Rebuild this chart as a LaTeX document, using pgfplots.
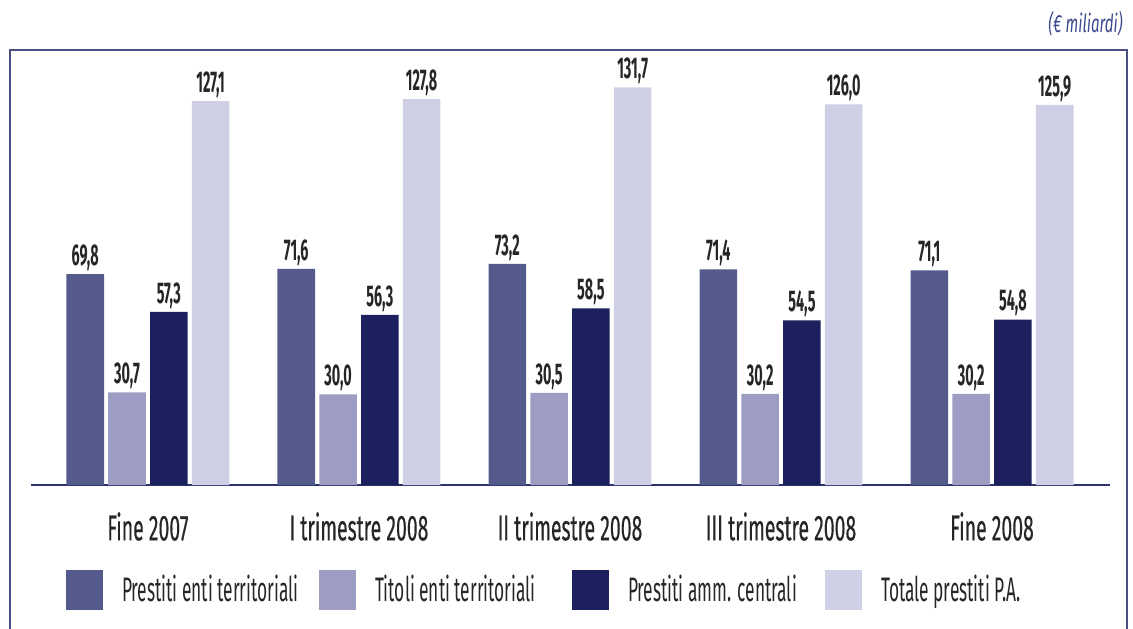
\documentclass[border=0pt]{standalone}
\usepackage{pgfplots}
\pgfplotsset{compat=1.18}
\usepackage{fontspec}
\setmainfont{Fira Sans}[FakeStretch=0.51]
\newfontfamily\valfont{Fira Sans}[FakeStretch=0.48]
\newfontfamily\catfont{Fira Sans}[FakeStretch=0.54, FakeBold=0.4]
\newfontfamily\unitfont{Fira Sans}[FakeStretch=0.6]
\definecolor{cA}{HTML}{555A8C}
\definecolor{cB}{HTML}{9D9CC2}
\definecolor{cC}{HTML}{1C205E}
\definecolor{cD}{HTML}{CFCFE6}
\definecolor{boxcol}{HTML}{4A4F80}
\definecolor{axcol}{HTML}{2C336F}
\definecolor{txt}{HTML}{262626}
\definecolor{titblue}{HTML}{3D4A8F}
\begin{document}
\begin{tikzpicture}[x=1pt,y=1pt]
\useasboundingbox (0,0) rectangle (566.5,314);
\draw[boxcol, line width=1pt] (5,-2) -- (5,289) -- (563.5,289) -- (563.5,-2);
\node[anchor=east, font=\unitfont\itshape\fontsize{12.5}{14}\selectfont, text=titblue, inner sep=0pt] at (561.5,302) {(€ miliardi)};
\begin{axis}[
  at={(15.5pt,71.5pt)}, anchor=south west,
  scale only axis, width=539.5pt, height=211.4pt,
  xmin=-0.554, xmax=4.559, ymin=0, ymax=140,
  ybar, bar width=0.178,
  axis x line*=bottom, axis y line=none,
  axis line style={axcol, line width=1pt},
  xtick={0,1,2,3,4},
  xticklabels={Fine 2007, I trimestre 2008, II trimestre 2008, III trimestre 2008, Fine 2008},
  xtick style={draw=none},
  xticklabel style={anchor=center, yshift=-16.5pt, font=\catfont\fontsize{18}{20}\selectfont, text=txt},
  clip=false,
  nodes near coords={\pgfmathprintnumber[fixed,fixed zerofill,precision=1,use comma,assume math mode=true]{\pgfplotspointmeta}},
  every node near coord/.append style={font=\valfont\bfseries\fontsize{15}{17}\selectfont, text=txt, inner sep=1.5pt},
  legend image code/.code={\fill[#1] (0pt,-10pt) rectangle (18.5pt,10pt);},
  legend columns=4,
  legend style={at={(rel axis cs:0,0)}, anchor=west, xshift=17.5pt, yshift=-52.25pt,
    draw=none, fill=none, inner sep=0pt, outer sep=0pt,
    font=\fontsize{17}{19}\selectfont, text=txt,
    nodes={inner sep=0pt},
    /tikz/every odd column/.style={column sep=9.5pt},
    /tikz/every even column/.style={column sep=8.5pt}},
]
\addplot[fill=cA, draw=none, bar shift=-0.297] coordinates {(0,69.8) (1,71.6) (2,73.2) (3,71.4) (4,71.1)};
\addlegendentry{\makebox[90pt][l]{Prestiti enti territoriali}}
\addplot[fill=cB, draw=none, bar shift=-0.099] coordinates {(0,30.7) (1,30.0) (2,30.5) (3,30.2) (4,30.2)};
\addlegendentry{\makebox[90pt][l]{Titoli enti territoriali}}
\addplot[fill=cC, draw=none, bar shift=0.099] coordinates {(0,57.3) (1,56.3) (2,58.5) (3,54.5) (4,54.8)};
\addlegendentry{\makebox[90pt][l]{Prestiti amm. centrali}}
\addplot[fill=cD, draw=none, bar shift=0.297] coordinates {(0,127.1) (1,127.8) (2,131.7) (3,126.0) (4,125.9)};
\addlegendentry{\makebox[90pt][l]{Totale prestiti P.A.}}
\end{axis}
\end{tikzpicture}
\end{document}
